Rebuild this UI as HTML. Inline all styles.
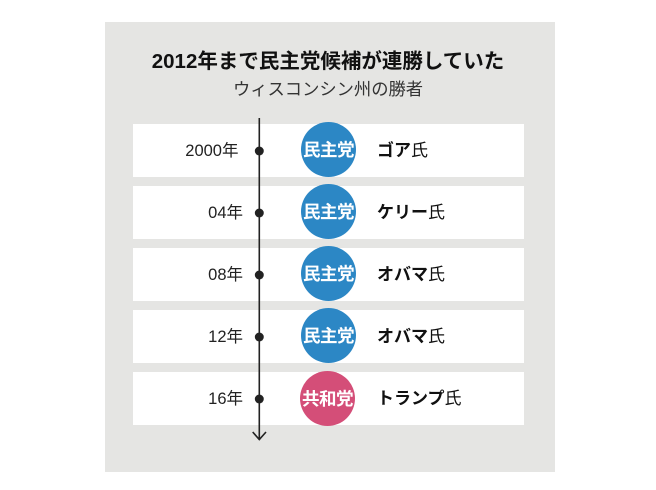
<!DOCTYPE html>
<html>
<head>
<meta charset="utf-8">
<style>
  html, body { margin:0; padding:0; }
  body { width:656px; height:490px; background:#fff; position:relative; overflow:hidden;
         font-family:"Liberation Sans","Noto Sans CJK JP",sans-serif; }
  .box { position:absolute; left:105px; top:22px; width:450px; height:450px; background:#e5e5e3; }
  .title { position:absolute; left:0; width:656px; text-align:center; white-space:nowrap; }
  .row { position:absolute; left:133px; width:391px; height:53px; background:#fff; }
  .year { position:absolute; width:120px; text-align:right; font-size:16.5px; color:#222; line-height:20px; white-space:nowrap; }
  .circ { position:absolute; width:55px; height:55px; border-radius:50%; color:#fff; font-weight:bold;
          font-size:17.5px; line-height:57px; text-align:center; letter-spacing:-0.5px; white-space:nowrap; overflow:visible; }
  .dem { background:#2c87c5; }
  .rep { background:#d44e78; }
  .name { position:absolute; left:377px; font-size:17px; line-height:22px; color:#111; white-space:nowrap; }
  .name b { font-weight:bold; }
</style>
</head>
<body>
<div class="box"></div>
<div class="title" style="top:48.5px; line-height:26px; font-size:20.5px; font-weight:bold; color:#111; left:0px;">2012年まで民主党候補が連勝していた</div>
<div class="title" style="top:78px; line-height:22px; font-size:17.3px; color:#333; left:0px;">ウィスコンシン州の勝者</div>

<div class="row" style="top:124px;"></div>
<div class="row" style="top:186px;"></div>
<div class="row" style="top:248px;"></div>
<div class="row" style="top:310px;"></div>
<div class="row" style="top:372px;"></div>

<svg style="position:absolute;left:0;top:0;" width="656" height="490">
  <line x1="259.3" y1="118" x2="259.3" y2="440" stroke="#222" stroke-width="1.6"/>
  <polyline points="252.7,432 259.3,439.5 266,432" fill="none" stroke="#222" stroke-width="1.6"/>
  <circle cx="259.3" cy="151" r="4.5" fill="#222"/>
  <circle cx="259.3" cy="213" r="4.5" fill="#222"/>
  <circle cx="259.3" cy="275" r="4.5" fill="#222"/>
  <circle cx="259.3" cy="337" r="4.5" fill="#222"/>
  <circle cx="259.3" cy="399" r="4.5" fill="#222"/>
</svg>

<div class="year" style="left:118.5px; top:141px;">2000年</div>
<div class="year" style="left:123px; top:203px;">04年</div>
<div class="year" style="left:123px; top:265px;">08年</div>
<div class="year" style="left:123px; top:327px;">12年</div>
<div class="year" style="left:123px; top:389px;">16年</div>

<div class="circ dem" style="left:301px; top:122px;">民主党</div>
<div class="circ dem" style="left:301px; top:184px;">民主党</div>
<div class="circ dem" style="left:301px; top:246px;">民主党</div>
<div class="circ dem" style="left:301px; top:308px;">民主党</div>
<div class="circ rep" style="left:300px; top:370.5px;">共和党</div>

<div class="name" style="top:139.5px;"><b>ゴア</b>氏</div>
<div class="name" style="top:201.5px;"><b>ケリー</b>氏</div>
<div class="name" style="top:263.5px;"><b>オバマ</b>氏</div>
<div class="name" style="top:325.5px;"><b>オバマ</b>氏</div>
<div class="name" style="top:387.5px;"><b>トランプ</b>氏</div>
</body>
</html>
